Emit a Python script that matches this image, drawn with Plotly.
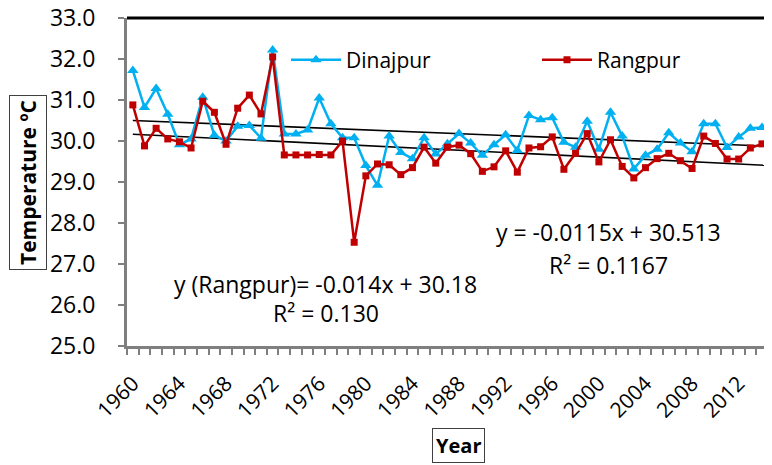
import numpy as np
import plotly.graph_objects as go

years = list(range(1960, 2016))
dinajpur = [31.72, 30.82, 31.28, 30.65, 29.91, 30.05, 31.07, 30.14, 30.00, 30.36,
            30.38, 30.07, 32.22, 30.17, 30.17, 30.27, 31.05, 30.42, 30.08, 30.08,
            29.40, 28.92, 30.12, 29.72, 29.57, 30.08, 29.68, 29.93, 30.18, 29.95,
            29.65, 29.91, 30.15, 29.77, 30.62, 30.52, 30.57, 29.97, 29.85, 30.48,
            29.80, 30.70, 30.12, 29.32, 29.65, 29.80, 30.20, 29.95, 29.74, 30.42,
            30.42, 29.84, 30.10, 30.31, 30.33, 30.25]
rangpur = [30.88, 29.88, 30.31, 30.05, 29.98, 29.83, 30.97, 30.70, 29.92, 30.80,
           31.12, 30.66, 32.05, 29.66, 29.66, 29.66, 29.67, 29.66, 30.00, 27.53,
           29.15, 29.44, 29.42, 29.18, 29.35, 29.85, 29.46, 29.85, 29.90, 29.69,
           29.26, 29.37, 29.76, 29.24, 29.83, 29.86, 30.10, 29.31, 29.70, 30.18,
           29.49, 30.03, 29.38, 29.10, 29.35, 29.57, 29.70, 29.52, 29.33, 30.12,
           29.94, 29.56, 29.56, 29.83, 29.93, 29.68]
label_years = list(range(1960, 2013, 4))
y_ticks = [25, 26, 27, 28, 29, 30, 31, 32, 33]

# Trend-line coefficients as printed on the chart (x = 1, 2, 3, ...)
din_slope, din_intercept = -0.0115, 30.513
ran_slope, ran_intercept = -0.014, 30.18

idx = np.arange(1, len(years) + 1)
din_trend = din_slope * idx + din_intercept
ran_trend = ran_slope * idx + ran_intercept

FONT = "Open Sans"
BLUE = "#00B0F0"
RED = "#C00000"

# The page body has an 8px margin, so the figure is drawn 8px smaller and offset
OFF = 8
W, H = 772 - OFF, 465 - OFF
PLOT_L, PLOT_T, PLOT_B = 127, 18, 346  # in screen pixels
L, T = PLOT_L - OFF, PLOT_T - OFF
B = H - (PLOT_B - OFF)
PW, PH = 772 - PLOT_L, PLOT_B - PLOT_T


def px(x):
    return (x - PLOT_L) / PW


def py(y):
    return (PLOT_B - y) / PH


fig = go.Figure()
fig.add_trace(go.Scatter(x=years, y=din_trend, mode="lines",
                         line=dict(color="black", width=1.6), showlegend=False, hoverinfo="skip"))
fig.add_trace(go.Scatter(x=years, y=ran_trend, mode="lines",
                         line=dict(color="black", width=1.6), showlegend=False, hoverinfo="skip"))
fig.add_trace(go.Scatter(x=years, y=dinajpur, mode="lines+markers", name="Dinajpur",
                         line=dict(color=BLUE, width=2.5),
                         marker=dict(symbol="triangle-up", size=10, color=BLUE),
                         legend="legend"))
fig.add_trace(go.Scatter(x=years, y=rangpur, mode="lines+markers", name="Rangpur",
                         line=dict(color=RED, width=2.5),
                         marker=dict(symbol="square", size=7, color=RED),
                         legend="legend2"))

leg_common = dict(orientation="h", xanchor="left", yanchor="middle",
                  bgcolor="rgba(0,0,0,0)", font=dict(size=21, family=FONT, color="black"),
                  itemwidth=50)

fig.update_layout(
    width=W, height=H,
    margin=dict(l=L, r=0, t=T, b=B, autoexpand=False),
    paper_bgcolor="white", plot_bgcolor="white",
    font=dict(family=FONT, size=21, color="black"),
    showlegend=True,
    legend=dict(x=px(286), y=py(60), **leg_common),
    legend2=dict(x=px(537), y=py(60), **leg_common),
    xaxis=dict(range=[1959.5, 2014.86], tickmode="array", tickvals=label_years,
               ticktext=[str(v) for v in label_years], tickangle=-45,
               ticks="", showgrid=False, zeroline=False, automargin=False,
               showline=True, linecolor="#7f7f7f", linewidth=3,
               ticklabelstandoff=14, ticklabeloverflow="allow",
               tickfont=dict(size=21, family=FONT),
               minor=dict(ticks="outside", tickvals=[y - 0.5 for y in years] + [years[-1] + 0.5],
                          ticklen=6, tickcolor="#7f7f7f", tickwidth=1.5, showgrid=False)),
    yaxis=dict(range=[25, 33], tickmode="array", tickvals=y_ticks,
               ticktext=[f"{v:.1f}" for v in y_ticks],
               ticks="outside", ticklen=6, tickcolor="#7f7f7f", tickwidth=1.5,
               showgrid=False, zeroline=False, automargin=False,
               showline=True, linecolor="#7f7f7f", linewidth=3,
               ticklabelstandoff=18, ticklabeloverflow="allow",
               tickfont=dict(size=23, family=FONT)),
)

# Top border of the plot area
fig.add_shape(type="line", xref="paper", yref="paper", x0=0, x1=1, y0=1, y1=1,
              line=dict(color="black", width=3))

annots = [
    dict(text="y = -0.0115x + 30.513", x=608, y=232),
    dict(text="R² = 0.1167", x=608, y=265),
    dict(text="y (Rangpur)= -0.014x + 30.18", x=325, y=284),
    dict(text="R² = 0.130", x=326, y=313),
]
for a in annots:
    fig.add_annotation(text=a["text"], xref="paper", yref="paper",
                       x=px(a["x"]), y=py(a["y"]),
                       xanchor="center", yanchor="middle", showarrow=False,
                       font=dict(size=23, family=FONT, color="black"))

fig.add_annotation(text="<b>Year</b>", xref="paper", yref="paper",
                   x=px(458), y=py(445),
                   xanchor="center", yanchor="middle", showarrow=False,
                   font=dict(size=20, family=FONT, color="black"),
                   bordercolor="#404040", borderwidth=1, borderpad=3, bgcolor="white")
fig.add_annotation(text="<b>Temperature ºC</b>", xref="paper", yref="paper",
                   x=px(28), y=py(182),
                   xanchor="center", yanchor="middle", showarrow=False, textangle=-90,
                   font=dict(size=21, family=FONT, color="black"),
                   bordercolor="#404040", borderwidth=1, borderpad=4, bgcolor="white")

fig.write_html("out.html")
